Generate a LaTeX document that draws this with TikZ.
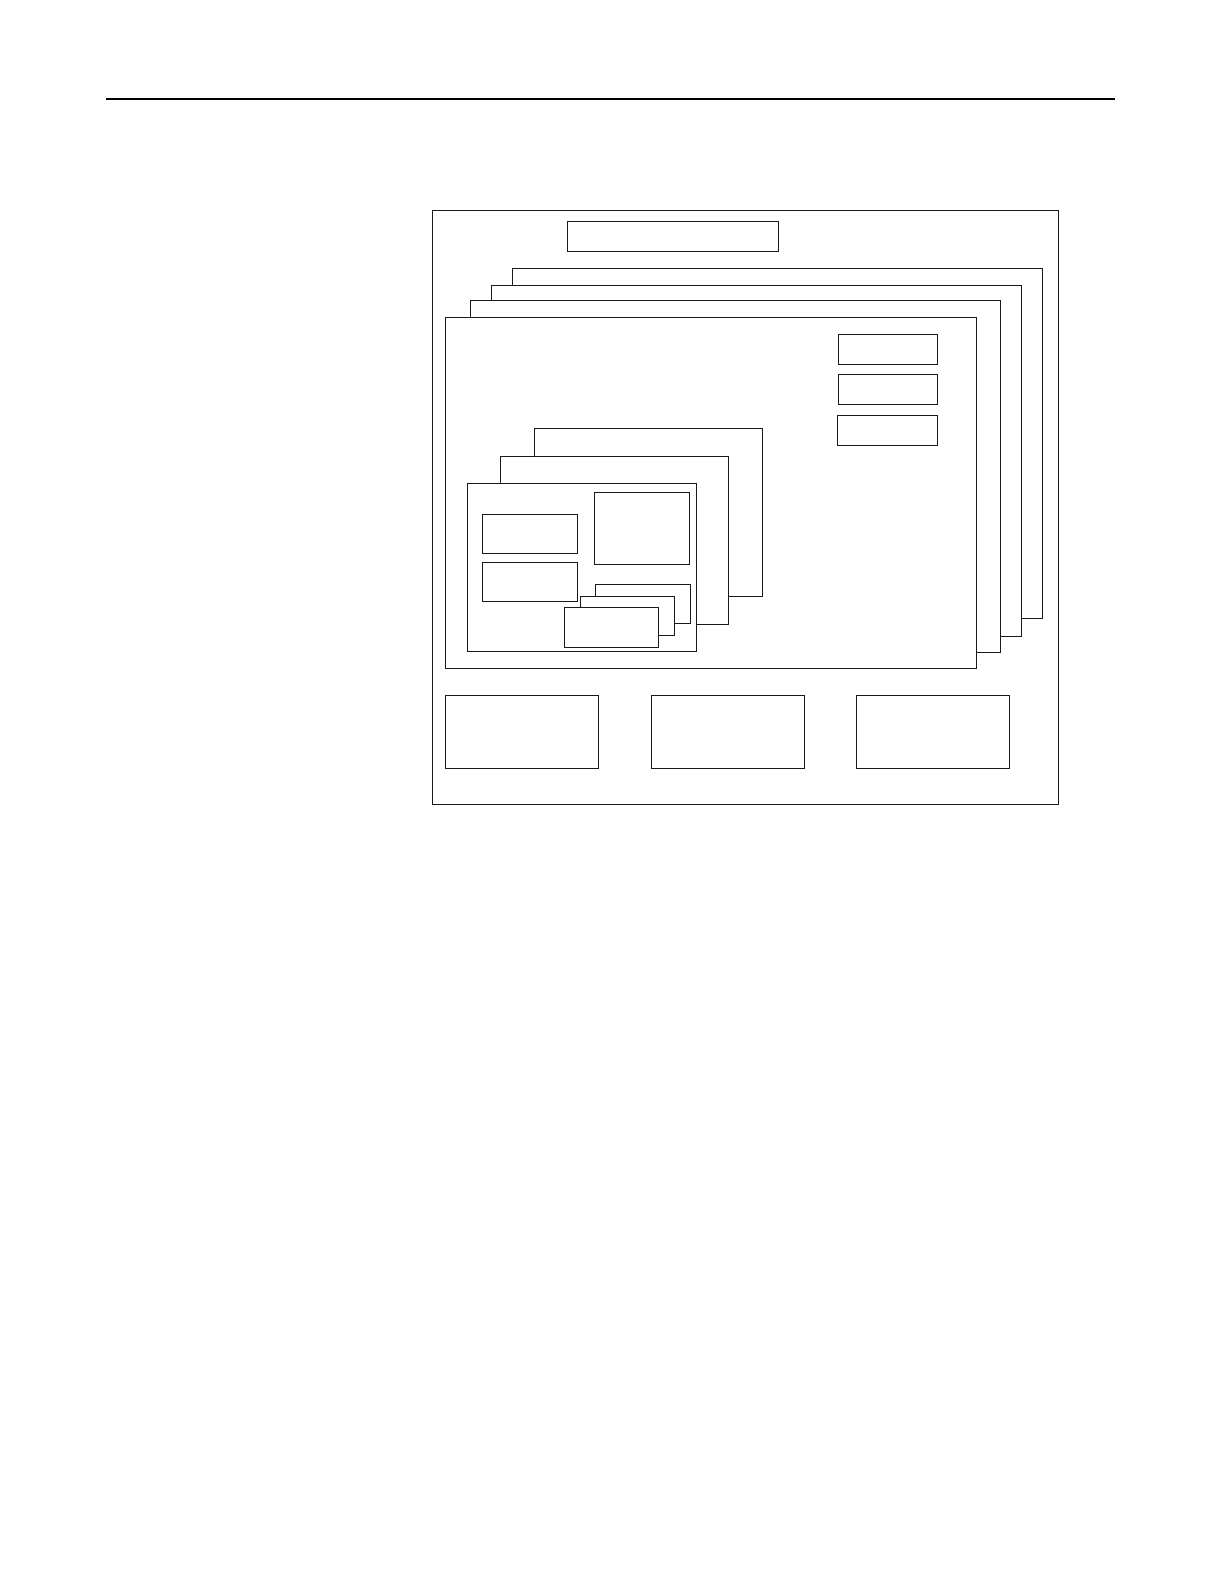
\documentclass[tikz,border=0pt]{standalone}
\usepackage{tikz}
\tikzset{
  box/.style={draw=black!90, fill=white, line width=1pt, inner sep=0pt, outer sep=0pt, anchor=north west},
  toprule/.style={line width=2.6pt, black}
}
\newcommand{\bx}[5]{\node[box, minimum width={#4pt-#2pt}, minimum height={#5pt-#3pt}] (#1) at (#2,#3) {};}
\begin{document}
\begin{tikzpicture}[x=1pt,y=-1pt]
\useasboundingbox (0,0) rectangle (1224,1584);
% top rule
\coordinate (rl) at (106,99);
\coordinate (rr) at (1115,99);
\draw[toprule] (rl) -- (rr);
% outer frame
\bx{outer}{432}{210}{1058}{804}
\bx{title}{567}{221}{778}{251}
% stack of large panels
\bx{p1}{512}{268}{1042}{618}
\bx{p2}{491}{285}{1021}{636}
\bx{p3}{470}{300}{1000}{652}
\bx{p4}{445}{317}{976}{668}
% right small boxes
\bx{r1}{838}{334}{937}{364}
\bx{r2}{838}{374}{937}{404}
\bx{r3}{837}{415}{937}{445}
% inner stack
\bx{i1}{534}{428}{762}{596}
\bx{i2}{500}{456}{728}{624}
\bx{i3}{467}{483}{696}{651}
\bx{a1}{482}{514}{577}{553}
\bx{a2}{482}{562}{577}{601}
\bx{big}{594}{492}{689}{564}
\bx{s1}{595}{584}{690}{623}
\bx{s2}{580}{596}{674}{635}
\bx{s3}{564}{607}{658}{647}
% bottom boxes
\bx{b1}{445}{695}{598}{768}
\bx{b2}{651}{695}{804}{768}
\bx{b3}{856}{695}{1009}{768}
\end{tikzpicture}
\end{document}
